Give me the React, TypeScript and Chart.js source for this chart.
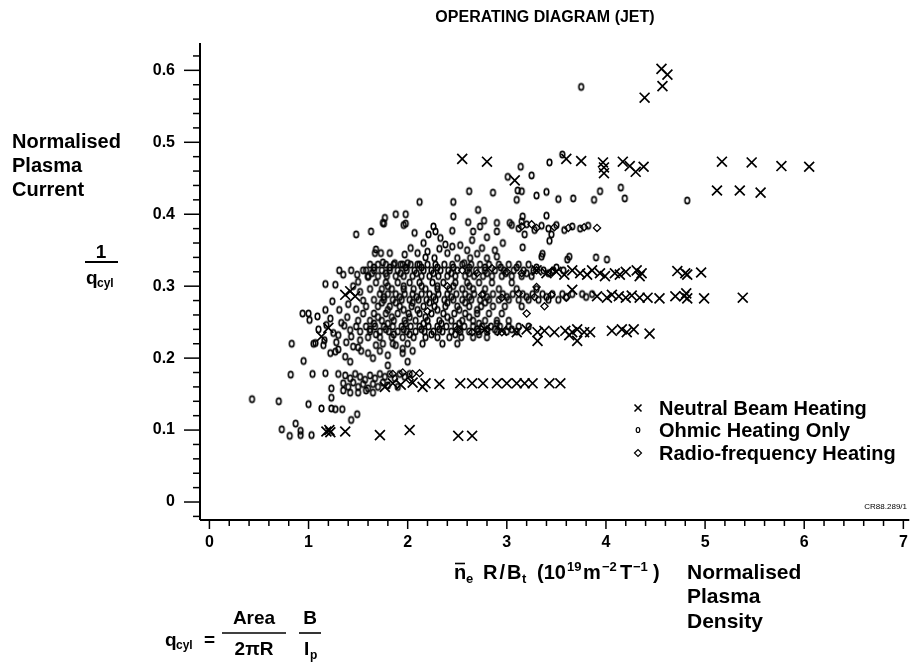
import React, { useEffect, useRef } from 'react';
import { Chart, registerables } from 'chart.js';

Chart.register(...registerables);

// ---- axis definition ----
const xTicks = [0, 1, 2, 3, 4, 5, 6, 7];
const yTicks = [0, 0.1, 0.2, 0.3, 0.4, 0.5, 0.6];
const X_MIN = -0.095;
const X_MAX = 7.06;
const Y_MIN = -0.025;
const Y_MAX = 0.638;

const titleText = 'OPERATING DIAGRAM (JET)';
const legendLabels = ['Neutral Beam Heating', 'Ohmic Heating Only', 'Radio-frequency Heating'];
const yCaption = ['Normalised', 'Plasma', 'Current'];
const xCaption = ['Normalised', 'Plasma', 'Density'];
const refCode = 'CR88.289/1';

// ---- Neutral beam heating (x) ----
const nbPoints: [number, number][] = [
  [4.56, 0.602], [4.62, 0.594], [4.57, 0.578], [4.39, 0.562],
  [2.55, 0.477], [2.80, 0.473], [3.08, 0.447], [3.60, 0.477], [3.75, 0.474], [3.97, 0.472], [3.98, 0.465], [3.98, 0.457],
  [4.17, 0.473], [4.24, 0.467], [4.30, 0.459], [4.38, 0.466], [5.17, 0.473], [5.47, 0.472], [5.77, 0.467], [6.05, 0.466],
  [5.12, 0.433], [5.35, 0.433], [5.56, 0.430],
  [3.30, 0.322], [3.40, 0.318], [3.50, 0.320], [3.58, 0.316], [3.66, 0.322], [3.74, 0.318], [3.81, 0.316], [3.86, 0.322],
  [3.94, 0.318], [3.99, 0.314], [4.09, 0.318], [4.14, 0.316], [4.20, 0.320], [4.31, 0.322], [4.34, 0.314], [4.36, 0.318],
  [4.72, 0.321], [4.80, 0.318], [4.82, 0.316], [4.96, 0.319],
  [1.37, 0.288], [1.47, 0.286], [1.42, 0.293], [1.20, 0.242], [1.13, 0.230],
  [3.66, 0.295], [3.91, 0.286], [4.01, 0.284], [4.06, 0.288], [4.13, 0.286], [4.20, 0.284], [4.26, 0.287], [4.34, 0.284],
  [4.42, 0.284], [4.54, 0.283], [4.70, 0.286], [4.79, 0.286], [4.81, 0.290], [4.82, 0.283], [4.99, 0.283], [5.38, 0.284],
  [2.78, 0.240], [2.95, 0.238], [3.10, 0.236], [3.20, 0.240],
  [3.31, 0.236], [3.31, 0.224], [3.38, 0.238], [3.48, 0.236], [3.59, 0.238], [3.63, 0.232], [3.66, 0.236], [3.71, 0.240],
  [3.71, 0.224], [3.78, 0.236], [3.84, 0.236], [4.06, 0.238], [4.16, 0.240], [4.21, 0.236], [4.28, 0.240], [4.44, 0.234],
  [1.77, 0.160], [1.85, 0.165], [1.93, 0.163], [2.05, 0.166], [2.15, 0.160], [2.18, 0.165], [2.32, 0.164], [2.53, 0.165],
  [2.65, 0.165], [2.76, 0.165], [2.90, 0.165], [3.00, 0.165], [3.10, 0.165], [3.18, 0.165], [3.26, 0.165], [3.43, 0.165],
  [3.54, 0.165],
  [1.18, 0.098], [1.21, 0.100], [1.22, 0.097], [1.37, 0.098], [1.72, 0.093], [2.02, 0.100], [2.51, 0.092], [2.65, 0.092],
];

// ---- Ohmic heating only (o) ----
const ohmicPoints: [number, number][] = [
  // scattered upper points
  [3.75, 0.577], [4.82, 0.419], [3.56, 0.483], [3.14, 0.466], [3.43, 0.472], [3.01, 0.452], [3.25, 0.454], [3.11, 0.433],
  [3.15, 0.432], [2.62, 0.432], [2.86, 0.430], [3.40, 0.431], [3.30, 0.426], [3.52, 0.421], [3.67, 0.422], [3.88, 0.420],
  [3.94, 0.432], [4.15, 0.437], [4.19, 0.422], [3.10, 0.420], [2.12, 0.417], [2.46, 0.417], [2.71, 0.406], [2.46, 0.397],
  [1.98, 0.400], [2.61, 0.389], [2.77, 0.391], [2.90, 0.388], [3.03, 0.388], [1.88, 0.400], [1.77, 0.395], [1.75, 0.388],
  [1.98, 0.387], [2.26, 0.383], [3.16, 0.397], [3.40, 0.398], [3.43, 0.363], [3.16, 0.354], [3.36, 0.345], [3.90, 0.340],
  [4.01, 0.337], [3.63, 0.341], [3.61, 0.337], [3.35, 0.341],
  // 0.33 - 0.38
  [1.48, 0.372], [1.63, 0.376], [1.76, 0.387], [2.07, 0.374], [2.21, 0.372], [2.16, 0.360], [2.03, 0.353], [1.68, 0.351],
  [1.67, 0.346], [1.73, 0.346], [1.82, 0.346], [1.97, 0.344], [1.75, 0.333], [1.87, 0.332], [1.93, 0.330], [2.00, 0.332],
  [2.10, 0.330], [2.28, 0.376], [2.45, 0.377], [2.33, 0.367], [2.53, 0.357], [2.66, 0.376], [2.73, 0.383], [2.88, 0.350],
  [2.96, 0.360], [2.90, 0.376], [2.65, 0.364], [2.75, 0.353], [2.10, 0.346], [2.20, 0.348], [2.40, 0.346], [2.27, 0.339],
  [2.50, 0.339], [2.63, 0.339], [2.80, 0.339], [2.57, 0.332], [2.90, 0.341], [2.80, 0.368], [1.96, 0.385], [2.38, 0.358],
  [2.18, 0.340], [2.45, 0.355], [2.60, 0.350], [2.32, 0.352], [2.70, 0.345],
  // band 0.38
  [3.05, 0.385], [3.12, 0.380], [3.20, 0.386], [3.28, 0.378], [3.35, 0.384], [3.42, 0.380], [3.50, 0.385], [3.58, 0.378],
  [3.66, 0.383], [3.74, 0.380], [3.82, 0.384], [3.18, 0.372], [3.45, 0.372], [3.15, 0.390],
  // left cluster
  [1.31, 0.322], [1.43, 0.322], [1.49, 0.316], [1.35, 0.316], [1.17, 0.303], [1.27, 0.302], [1.50, 0.306], [1.58, 0.322],
  [1.60, 0.313], [0.94, 0.262], [1.00, 0.262], [1.01, 0.253], [1.09, 0.258], [1.17, 0.267], [1.22, 0.255], [1.24, 0.279],
  [1.31, 0.267], [1.33, 0.249], [1.39, 0.257], [0.83, 0.220], [1.05, 0.220], [1.30, 0.232], [1.42, 0.239], [1.43, 0.230],
  [1.45, 0.300], [1.52, 0.292], [1.40, 0.275], [1.48, 0.268], [1.55, 0.280], [1.36, 0.245], [1.52, 0.225], [1.38, 0.222],
  [1.30, 0.212], [1.50, 0.215], [1.10, 0.240], [1.16, 0.225], [1.25, 0.235], [1.18, 0.246], [1.28, 0.222],
  // low left
  [0.43, 0.143], [0.70, 0.140], [0.95, 0.196], [0.82, 0.177], [1.04, 0.178], [1.00, 0.136], [1.13, 0.130], [1.23, 0.145],
  [1.23, 0.130], [1.27, 0.129], [1.34, 0.129], [1.49, 0.122], [1.43, 0.114], [0.87, 0.109], [0.73, 0.101], [0.81, 0.092],
  [0.92, 0.099], [0.92, 0.093], [1.03, 0.093], [1.23, 0.158], [1.17, 0.179], [1.07, 0.221], [1.15, 0.218], [1.22, 0.207],
  [1.27, 0.209], [1.37, 0.202], [1.42, 0.195], [1.45, 0.216], [1.53, 0.210], [1.60, 0.207], [1.68, 0.218], [1.80, 0.204],
  [1.80, 0.190], [1.88, 0.218], [1.95, 0.207], [1.95, 0.213], [2.00, 0.195], [2.05, 0.210], [1.65, 0.200], [1.72, 0.210],
  // band 0.17
  [1.30, 0.178], [1.37, 0.176], [1.42, 0.172], [1.47, 0.178], [1.52, 0.174], [1.57, 0.170], [1.62, 0.176], [1.67, 0.172],
  [1.72, 0.178], [1.77, 0.174], [1.82, 0.178], [1.87, 0.172], [1.92, 0.178], [1.97, 0.174], [2.02, 0.178], [1.35, 0.165],
  [1.40, 0.160], [1.45, 0.166], [1.50, 0.160], [1.55, 0.164], [1.60, 0.158], [1.65, 0.164], [1.70, 0.160], [1.75, 0.166],
  [1.80, 0.162], [1.90, 0.160], [1.35, 0.155], [1.42, 0.152], [1.50, 0.152], [1.58, 0.155], [1.65, 0.152],
  // dense block, row 0.330
  [1.62, 0.330], [1.70, 0.330], [1.78, 0.330], [1.86, 0.330], [1.95, 0.330], [2.03, 0.330], [2.12, 0.330], [2.20, 0.330],
  [2.28, 0.330], [2.37, 0.330], [2.45, 0.330], [2.55, 0.330], [2.64, 0.330], [2.73, 0.330], [2.82, 0.330], [2.92, 0.330],
  [3.02, 0.330], [3.12, 0.330], [3.22, 0.330],
  // row 0.326
  [1.66, 0.326], [1.82, 0.326], [1.98, 0.326], [2.14, 0.326], [2.30, 0.326], [2.46, 0.326], [2.62, 0.326], [2.78, 0.326],
  [2.94, 0.326], [3.10, 0.326], [3.30, 0.326], [3.50, 0.326],
  // row 0.322
  [1.55, 0.322], [1.66, 0.322], [1.74, 0.322], [1.82, 0.322], [1.90, 0.322], [1.99, 0.322], [2.07, 0.322], [2.16, 0.322],
  [2.24, 0.322], [2.33, 0.322], [2.41, 0.322], [2.50, 0.322], [2.60, 0.322], [2.69, 0.322], [2.78, 0.322], [2.88, 0.322],
  [2.97, 0.322], [3.07, 0.322], [3.17, 0.322], [3.27, 0.322], [3.37, 0.322], [3.47, 0.322], [3.57, 0.322],
  // row 0.318
  [1.64, 0.318], [1.78, 0.318], [1.93, 0.318], [2.09, 0.318], [2.26, 0.318], [2.44, 0.318], [2.62, 0.318], [2.80, 0.318],
  [2.99, 0.318], [3.20, 0.318], [3.42, 0.318],
  // row 0.314
  [1.60, 0.314], [1.70, 0.314], [1.79, 0.314], [1.88, 0.314], [1.96, 0.314], [2.05, 0.314], [2.14, 0.314], [2.22, 0.314],
  [2.31, 0.314], [2.40, 0.314], [2.48, 0.314], [2.58, 0.314], [2.67, 0.314], [2.76, 0.314], [2.85, 0.314], [2.95, 0.314],
  [3.05, 0.314], [3.15, 0.314], [3.25, 0.314],
  // row 0.305 / 0.300
  [1.68, 0.305], [1.78, 0.305], [1.90, 0.305], [2.02, 0.305], [2.12, 0.305], [2.25, 0.305], [2.36, 0.305], [2.48, 0.305],
  [2.60, 0.305], [2.72, 0.305], [2.85, 0.305], [3.05, 0.305],
  [1.80, 0.300], [1.96, 0.300], [2.14, 0.300], [2.30, 0.300], [2.46, 0.300], [2.62, 0.300],
  // row 0.296
  [1.62, 0.296], [1.74, 0.296], [1.84, 0.296], [1.96, 0.296], [2.06, 0.296], [2.18, 0.296], [2.30, 0.296], [2.42, 0.296],
  [2.55, 0.296], [2.66, 0.296], [2.78, 0.296], [2.92, 0.296], [3.10, 0.296], [3.30, 0.296],
  // row 0.289
  [1.72, 0.289], [1.80, 0.289], [1.88, 0.289], [1.97, 0.289], [2.05, 0.289], [2.14, 0.289], [2.22, 0.289], [2.31, 0.289],
  [2.40, 0.289], [2.49, 0.289], [2.58, 0.289], [2.67, 0.289], [2.76, 0.289], [2.86, 0.289], [2.96, 0.289], [3.06, 0.289],
  [3.16, 0.289], [3.26, 0.289], [3.36, 0.289], [3.46, 0.289], [3.56, 0.289], [3.66, 0.289], [3.76, 0.289], [3.86, 0.289],
  // row 0.285
  [1.76, 0.285], [1.92, 0.285], [2.09, 0.285], [2.26, 0.285], [2.44, 0.285], [2.62, 0.285], [2.80, 0.285], [3.00, 0.285],
  [3.20, 0.285], [3.40, 0.285], [3.60, 0.285], [3.80, 0.285],
  // row 0.281
  [1.66, 0.281], [1.76, 0.281], [1.85, 0.281], [1.94, 0.281], [2.02, 0.281], [2.11, 0.281], [2.19, 0.281], [2.28, 0.281],
  [2.37, 0.281], [2.46, 0.281], [2.55, 0.281], [2.64, 0.281], [2.73, 0.281], [2.82, 0.281], [2.92, 0.281], [3.02, 0.281],
  [3.12, 0.281], [3.22, 0.281], [3.32, 0.281], [3.42, 0.281], [3.52, 0.281],
  // row 0.277
  [1.74, 0.277], [1.88, 0.277], [2.05, 0.277], [2.22, 0.277], [2.40, 0.277], [2.58, 0.277], [2.78, 0.277],
  // row 0.272
  [1.58, 0.272], [1.70, 0.272], [1.82, 0.272], [1.92, 0.272], [2.04, 0.272], [2.16, 0.272], [2.27, 0.272], [2.38, 0.272],
  [2.50, 0.272], [2.62, 0.272], [2.74, 0.272], [2.86, 0.272], [2.98, 0.272], [3.15, 0.272],
  // row 0.267
  [1.80, 0.267], [1.96, 0.267], [2.10, 0.267], [2.30, 0.267], [2.52, 0.267], [2.70, 0.267],
  // row 0.262
  [1.55, 0.262], [1.66, 0.262], [1.78, 0.262], [1.90, 0.262], [2.01, 0.262], [2.12, 0.262], [2.24, 0.262], [2.36, 0.262],
  [2.47, 0.262], [2.58, 0.262], [2.70, 0.262], [2.82, 0.262], [2.95, 0.262],
  // row 0.257
  [1.70, 0.257], [1.84, 0.257], [2.02, 0.257], [2.18, 0.257], [2.40, 0.257], [2.62, 0.257],
  // row 0.252
  [1.50, 0.252], [1.62, 0.252], [1.74, 0.252], [1.86, 0.252], [1.97, 0.252], [2.08, 0.252], [2.20, 0.252], [2.32, 0.252],
  [2.44, 0.252], [2.55, 0.252], [2.66, 0.252], [2.78, 0.252], [2.90, 0.252], [3.02, 0.252],
  // row 0.248
  [1.66, 0.248], [1.80, 0.248], [1.98, 0.248], [2.16, 0.248], [2.34, 0.248], [2.52, 0.248], [2.72, 0.248], [2.90, 0.248],
  // row 0.244
  [1.48, 0.244], [1.58, 0.244], [1.67, 0.244], [1.76, 0.244], [1.85, 0.244], [1.94, 0.244], [2.03, 0.244], [2.12, 0.244],
  [2.21, 0.244], [2.30, 0.244], [2.39, 0.244], [2.48, 0.244], [2.57, 0.244], [2.66, 0.244], [2.75, 0.244], [2.84, 0.244],
  [2.93, 0.244], [3.02, 0.244], [3.12, 0.244], [3.22, 0.244],
  // row 0.240
  [1.62, 0.240], [1.78, 0.240], [1.96, 0.240], [2.14, 0.240], [2.32, 0.240], [2.52, 0.240], [2.70, 0.240], [2.88, 0.240],
  [3.05, 0.240],
  // row 0.237
  [1.52, 0.237], [1.62, 0.237], [1.72, 0.237], [1.81, 0.237], [1.90, 0.237], [1.99, 0.237], [2.08, 0.237], [2.17, 0.237],
  [2.26, 0.237], [2.35, 0.237], [2.44, 0.237], [2.53, 0.237], [2.62, 0.237], [2.71, 0.237], [2.80, 0.237], [2.90, 0.237],
  [3.00, 0.237], [3.10, 0.237],
  // row 0.233 / 0.229 / 0.220
  [1.68, 0.233], [1.86, 0.233], [2.02, 0.233], [2.24, 0.233], [2.48, 0.233], [2.72, 0.233],
  [1.60, 0.229], [1.72, 0.229], [1.84, 0.229], [1.95, 0.229], [2.06, 0.229], [2.18, 0.229], [2.30, 0.229], [2.42, 0.229],
  [2.54, 0.229], [2.66, 0.229], [2.80, 0.229],
  [1.75, 0.220], [1.85, 0.220], [2.00, 0.220], [2.15, 0.220], [2.35, 0.220], [2.50, 0.220],
];

// ---- Radio-frequency heating (diamond) ----
const rfPoints: [number, number][] = [
  [3.15, 0.383], [3.30, 0.381], [3.48, 0.382], [3.62, 0.381], [3.78, 0.382], [3.91, 0.381], [3.25, 0.386],
  [2.55, 0.322], [2.70, 0.318], [2.85, 0.325], [3.00, 0.320], [3.15, 0.318], [3.30, 0.322], [3.45, 0.320],
  [2.75, 0.288], [2.95, 0.284], [3.12, 0.290], [3.28, 0.285], [3.45, 0.288], [3.60, 0.284], [3.30, 0.299],
  [3.38, 0.272], [3.20, 0.262], [2.50, 0.240], [2.65, 0.236], [2.80, 0.240], [2.95, 0.236], [2.40, 0.300], [2.20, 0.265],
  [1.85, 0.178], [1.95, 0.180], [2.05, 0.178], [2.12, 0.179], [2.02, 0.170],
];

const FONT = '"Liberation Sans", Arial, Helvetica, sans-serif';

function line(ctx: CanvasRenderingContext2D, x1: number, y1: number, x2: number, y2: number) {
  ctx.beginPath();
  ctx.moveTo(x1, y1);
  ctx.lineTo(x2, y2);
  ctx.stroke();
}

// draw a text piece at an explicit left x and baseline y
function piece(ctx: CanvasRenderingContext2D, t: string, x: number, y: number, size: number, spacing = 0) {
  ctx.font = `bold ${size}px ${FONT}`;
  ctx.textAlign = 'left';
  ctx.textBaseline = 'alphabetic';
  const c: any = ctx;
  if ('letterSpacing' in c) c.letterSpacing = `${spacing}px`;
  ctx.fillText(t, x, y);
  if ('letterSpacing' in c) c.letterSpacing = '0px';
}

function centered(ctx: CanvasRenderingContext2D, t: string, cx: number, y: number, size: number) {
  ctx.font = `bold ${size}px ${FONT}`;
  ctx.textAlign = 'center';
  ctx.textBaseline = 'alphabetic';
  ctx.fillText(t, cx, y);
}

const decorPlugin = {
  id: 'decor',
  afterDraw(chart: any) {
    const ctx: CanvasRenderingContext2D = chart.ctx;
    const ca = chart.chartArea;
    const xs = chart.scales.x;
    const ys = chart.scales.y;
    ctx.save();
    ctx.fillStyle = '#000';
    ctx.strokeStyle = '#000';

    // axes
    ctx.lineWidth = 2;
    line(ctx, ca.left, ca.top, ca.left, ca.bottom);
    line(ctx, ca.left, ca.bottom, ca.right, ca.bottom);

    // y ticks (major every 0.1, minor every 0.02)
    ctx.lineWidth = 1.5;
    for (let k = -1; k <= 31; k++) {
      const v = k * 0.02;
      if (v < Y_MIN || v > Y_MAX) continue;
      const py = ys.getPixelForValue(v);
      const major = k % 5 === 0;
      line(ctx, ca.left - (major ? 16 : 7), py, ca.left, py);
    }
    // x ticks (major every 1, minor every 0.2)
    for (let k = 0; k <= 35; k++) {
      const v = k * 0.2;
      if (v > X_MAX) continue;
      const px = xs.getPixelForValue(v);
      const major = k % 5 === 0;
      line(ctx, px, ca.bottom, px, ca.bottom + (major ? 9 : 6));
    }

    // title
    ctx.font = `bold 16px ${FONT}`;
    ctx.textAlign = 'center';
    ctx.textBaseline = 'middle';
    ctx.fillText(titleText, 545, 18);

    // left caption
    ctx.font = `bold 20px ${FONT}`;
    ctx.textAlign = 'left';
    ctx.textBaseline = 'middle';
    yCaption.forEach((s, i) => ctx.fillText(s, 12, 142 + i * 24));

    // 1 / q_cyl
    centered(ctx, '1', 101, 258, 19);
    ctx.lineWidth = 2;
    line(ctx, 85, 262, 118, 262);
    piece(ctx, 'q', 86, 284, 19);
    piece(ctx, 'cyl', 97, 287, 12);

    // x caption  n_e R/B_t (10^19 m^-2 T^-1)
    const by = 579;
    piece(ctx, 'n', 454, by, 20);
    ctx.lineWidth = 1.6;
    line(ctx, 455, by - 15.5, 465, by - 15.5);
    piece(ctx, 'e', 466, by + 4, 13);
    piece(ctx, 'R/B', 483, by, 20, 2);
    piece(ctx, 't', 522, by + 4, 13);
    piece(ctx, '(10', 537, by, 20);
    piece(ctx, '19', 567, by - 8, 13);
    piece(ctx, 'm', 583, by, 20);
    piece(ctx, '−2', 602, by - 8, 13);
    piece(ctx, 'T', 620, by, 20);
    piece(ctx, '−1', 633, by - 8, 13);
    piece(ctx, ')', 653, by, 20);

    ctx.font = `bold 21px ${FONT}`;
    ctx.textAlign = 'left';
    ctx.textBaseline = 'middle';
    xCaption.forEach((s, i) => ctx.fillText(s, 687, 573 + i * 24.5));

    // formula q_cyl = Area/(2πR) · B/I_p
    piece(ctx, 'q', 165, 646, 19);
    piece(ctx, 'cyl', 176, 649, 12);
    piece(ctx, '=', 204, 646, 19);
    centered(ctx, 'Area', 254, 624, 19);
    ctx.lineWidth = 1.6;
    line(ctx, 222, 633, 286, 633);
    centered(ctx, '2πR', 254, 655, 19);
    centered(ctx, 'B', 310, 624, 19);
    line(ctx, 299, 633, 321, 633);
    piece(ctx, 'I', 304, 655, 19);
    piece(ctx, 'p', 310, 659, 12);

    // legend
    const lx = 638;
    const rows = [408, 430, 453];
    ctx.lineWidth = 1.6;
    line(ctx, lx - 3.5, rows[0] - 3.5, lx + 3.5, rows[0] + 3.5);
    line(ctx, lx - 3.5, rows[0] + 3.5, lx + 3.5, rows[0] - 3.5);
    ctx.lineWidth = 1.2;
    ctx.beginPath();
    ctx.ellipse(lx, rows[1], 1.8, 2.5, 0, 0, Math.PI * 2);
    ctx.stroke();
    ctx.beginPath();
    ctx.moveTo(lx - 3.5, rows[2]);
    ctx.lineTo(lx, rows[2] - 3.5);
    ctx.lineTo(lx + 3.5, rows[2]);
    ctx.lineTo(lx, rows[2] + 3.5);
    ctx.closePath();
    ctx.stroke();
    ctx.font = `bold 20px ${FONT}`;
    ctx.textAlign = 'left';
    ctx.textBaseline = 'middle';
    legendLabels.forEach((s, i) => ctx.fillText(s, 659, rows[i] + 1, 250));

    // reference code
    ctx.font = `8px ${FONT}`;
    ctx.textAlign = 'right';
    ctx.fillText(refCode, 907, 507);

    ctx.restore();
  },
};

function makeOhmicGlyph(): HTMLCanvasElement {
  const c = document.createElement('canvas');
  c.width = 9;
  c.height = 11;
  const g = c.getContext('2d')!;
  g.strokeStyle = '#000';
  g.lineWidth = 1.6;
  g.beginPath();
  g.ellipse(4.5, 5.5, 2.3, 3.1, 0, 0, Math.PI * 2);
  g.stroke();
  return c;
}

export default function App() {
  const ref = useRef<HTMLCanvasElement | null>(null);

  useEffect(() => {
    if (!ref.current) return;
    const ohmicGlyph = makeOhmicGlyph();
    const toXY = (pts: [number, number][]) => pts.map(([x, y]) => ({ x, y }));
    const chart = new Chart(ref.current, {
      type: 'scatter',
      data: {
        datasets: [
          {
            label: legendLabels[0],
            data: toXY(nbPoints),
            pointStyle: 'crossRot',
            radius: 7,
            borderWidth: 1.7,
            borderColor: '#000',
            backgroundColor: '#000',
          },
          {
            label: legendLabels[2],
            data: toXY(rfPoints),
            pointStyle: 'rectRot',
            radius: 3.6,
            borderWidth: 1.3,
            borderColor: '#000',
            backgroundColor: 'rgba(255,255,255,0)',
          },
          {
            label: legendLabels[1],
            data: toXY(ohmicPoints),
            pointStyle: ohmicGlyph as any,
            radius: 3,
            borderWidth: 1.2,
            borderColor: '#000',
            backgroundColor: 'rgba(255,255,255,0)',
          },
        ],
      },
      options: {
        responsive: false,
        animation: false,
        devicePixelRatio: 1,
        layout: { padding: { left: 0, right: 0, top: 43, bottom: 0 } },
        plugins: {
          legend: { display: false },
          title: { display: false },
          tooltip: { enabled: false },
        },
        events: [],
        scales: {
          x: {
            type: 'linear',
            min: X_MIN,
            max: X_MAX,
            grid: { display: false, drawTicks: false },
            border: { display: false },
            afterBuildTicks: (scale: any) => {
              scale.ticks = xTicks.map((v) => ({ value: v }));
            },
            afterFit: (scale: any) => {
              scale.height = 149;
              scale.paddingLeft = 0;
              scale.paddingRight = 0;
            },
            ticks: {
              padding: 13,
              color: '#000',
              font: { family: FONT, size: 16, weight: 'bold' },
              callback: (v: any) => String(v),
            },
          },
          y: {
            type: 'linear',
            min: Y_MIN,
            max: Y_MAX,
            grid: { display: false, drawTicks: false },
            border: { display: false },
            afterBuildTicks: (scale: any) => {
              scale.ticks = yTicks.map((v) => ({ value: v }));
            },
            afterFit: (scale: any) => {
              scale.width = 200;
              scale.paddingTop = 0;
              scale.paddingBottom = 0;
            },
            ticks: {
              padding: 25,
              color: '#000',
              font: { family: FONT, size: 16, weight: 'bold' },
              callback: (v: any) => (Number(v) === 0 ? '0' : Number(v).toFixed(1)),
            },
          },
        },
      },
      plugins: [decorPlugin],
    } as any);
    return () => chart.destroy();
  }, []);

  return (
    <div style={{ position: 'absolute', left: 0, top: 0, width: 918, height: 669, background: '#fff' }}>
      <canvas ref={ref} width={918} height={669} style={{ display: 'block', width: 918, height: 669 }} />
    </div>
  );
}
